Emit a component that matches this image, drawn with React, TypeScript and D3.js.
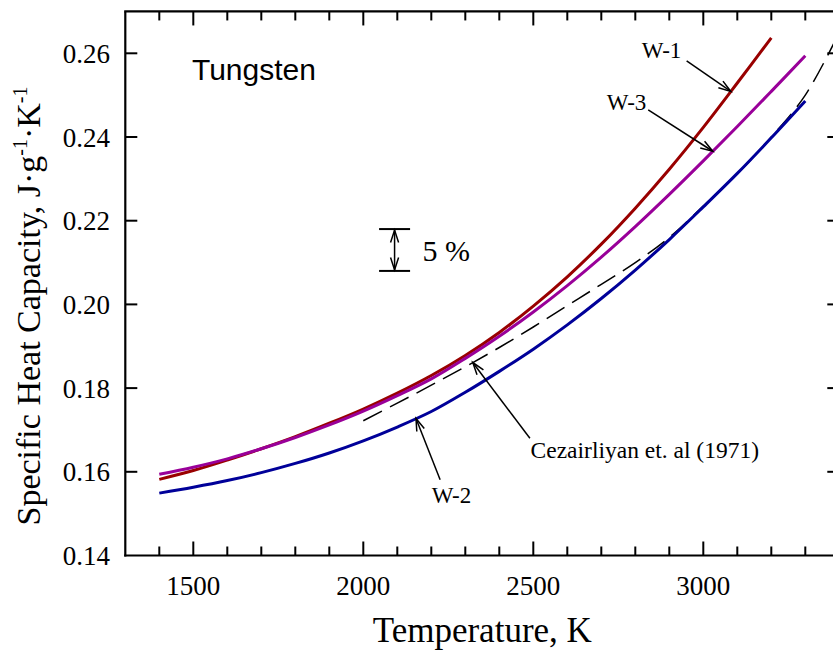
import React from "react";
import * as d3 from "d3";

// ---- data ----
const tempsW1 = [1400, 1500, 1600, 1700, 1800, 1900, 2000, 2100, 2200, 2300, 2400, 2500, 2600, 2700, 2800, 2900, 3000, 3100, 3200];
const w1 = [0.1582, 0.1603, 0.1628, 0.1655, 0.1684, 0.1716, 0.1750, 0.1788, 0.1830, 0.1878, 0.1933, 0.1996, 0.2066, 0.2144, 0.2230, 0.2323, 0.2423, 0.2529, 0.2637];
const tempsW23 = [1400, 1500, 1600, 1700, 1800, 1900, 2000, 2100, 2200, 2300, 2400, 2500, 2600, 2700, 2800, 2900, 3000, 3100, 3200, 3300];
const w3 = [0.1594, 0.1611, 0.1631, 0.1655, 0.1682, 0.1712, 0.1745, 0.1782, 0.1822, 0.1871, 0.1924, 0.1982, 0.2045, 0.2113, 0.2186, 0.2263, 0.2343, 0.2425, 0.2509, 0.2594];
const w2 = [0.1549, 0.1563, 0.1579, 0.1598, 0.1620, 0.1645, 0.1674, 0.1707, 0.1744, 0.1790, 0.1840, 0.1893, 0.1951, 0.2014, 0.2082, 0.2155, 0.2233, 0.2313, 0.2398, 0.2486];
const tempsCez = [2000, 2100, 2200, 2300, 2400, 2500, 2600, 2700, 2800, 2900, 3000, 3100, 3200, 3300, 3400];
const cez = [0.1722, 0.1764, 0.1807, 0.1851, 0.1897, 0.1946, 0.1997, 0.2048, 0.2100, 0.2160, 0.2235, 0.2312, 0.2400, 0.2500, 0.2650];

const xMajorTicks = [1500, 2000, 2500, 3000];
const xMinorTicks = d3.range(1400, 3400, 100);
const yTicks = [0.14, 0.16, 0.18, 0.20, 0.22, 0.24, 0.26];

// annotations in data coordinates
const errBarT = 2092;
const errBarLow = 0.208;
const errBarHigh = 0.218;

const W = 833;
const H = 655;

const x = d3.scaleLinear().domain([1300, 3400]).range([125.3, 839.3]);
const y = d3.scaleLinear().domain([0.14, 0.27]).range([555.5, 11.45]);

function valueAt(ts: number[], vs: number[], t: number) {
  return d3.scaleLinear().domain(ts).range(vs)(t);
}

const line = d3
  .line<[number, number]>()
  .x((d) => x(d[0]))
  .y((d) => y(d[1]))
  .curve(d3.curveCatmullRom.alpha(0.5));

const pts = (ts: number[], vs: number[]) => ts.map((t, i) => [t, vs[i]] as [number, number]);

function Arrow({ x1, y1, x2, y2 }: { x1: number; y1: number; x2: number; y2: number }) {
  const ang = Math.atan2(y2 - y1, x2 - x1);
  const L = 13;
  const a = (18 * Math.PI) / 180;
  const b1x = x2 - L * Math.cos(ang - a);
  const b1y = y2 - L * Math.sin(ang - a);
  const b2x = x2 - L * Math.cos(ang + a);
  const b2y = y2 - L * Math.sin(ang + a);
  return (
    <g stroke="#000" strokeWidth={1.5} fill="none">
      <line x1={x1} y1={y1} x2={x2} y2={y2} />
      <polyline points={`${b1x},${b1y} ${x2},${y2} ${b2x},${b2y}`} />
    </g>
  );
}

const annotations = [
  { label: "W-1", tx: 2819, ty: 0.2588, sx: 2951, sy: 0.2582, tipT: 3081, ts: tempsW1, vs: w1, size: 23 },
  { label: "W-3", tx: 2716, ty: 0.2465, sx: 2838, sy: 0.2465, tipT: 3028, ts: tempsW23, vs: w3, size: 23 },
  { label: "W-2", tx: 2201, ty: 0.1525, sx: 2226, sy: 0.1581, tipT: 2155, ts: tempsW23, vs: w2, size: 23 },
  { label: "Cezairliyan et. al (1971)", tx: 2492, ty: 0.1632, sx: 2490, sy: 0.1680, tipT: 2322, ts: tempsCez, vs: cez, size: 23.5 },
];

const serif = "Liberation Serif, Times New Roman, serif";
const sans = "Liberation Sans, Arial, sans-serif";

export default function App() {
  const left = x.range()[0];
  const right = x.range()[1];
  const bottom = y.range()[0];
  const top = y.range()[1];
  return (
    <svg width={W} height={H} style={{ position: "absolute", left: 0, top: 0, background: "#fff" }}>
      <defs>
        <clipPath id="plot">
          <rect x={left} y={top} width={right - left} height={bottom - top} />
        </clipPath>
      </defs>
      <rect x={0} y={0} width={W} height={H} fill="#fff" />

      {/* curves */}
      <g clipPath="url(#plot)" fill="none">
        <path d={line(pts(tempsCez, cez)) || ""} stroke="#000" strokeWidth={1.5} strokeDasharray="21,9" />
        <path d={line(pts(tempsW1, w1)) || ""} stroke="#990000" strokeWidth={3} />
        <path d={line(pts(tempsW23, w3)) || ""} stroke="#990099" strokeWidth={3} />
        <path d={line(pts(tempsW23, w2)) || ""} stroke="#000099" strokeWidth={3} />
      </g>

      {/* axes frame */}
      <g stroke="#000" strokeWidth={2.2} fill="none">
        <line x1={left} y1={top} x2={left} y2={bottom + 1.1} />
        <line x1={left - 1.1} y1={bottom} x2={right} y2={bottom} />
        <line x1={left - 1.1} y1={top} x2={right} y2={top} />
        <line x1={right} y1={top} x2={right} y2={bottom} />
      </g>

      {/* ticks */}
      <g stroke="#000" strokeWidth={2}>
        {xMinorTicks.map((t) => {
          const len = xMajorTicks.includes(t) ? 14 : 9;
          return (
            <g key={t}>
              <line x1={x(t)} x2={x(t)} y1={bottom} y2={bottom - len} />
              <line x1={x(t)} x2={x(t)} y1={top} y2={top + len} />
            </g>
          );
        })}
        {yTicks.slice(1).map((v) => (
          <g key={v}>
            <line x1={left} x2={left + 12} y1={y(v)} y2={y(v)} />
            <line x1={right} x2={right - 12} y1={y(v)} y2={y(v)} />
          </g>
        ))}
      </g>

      {/* tick labels */}
      {xMajorTicks.map((t) => (
        <text key={t} x={x(t)} y={595} textAnchor="middle" fontFamily={serif} fontSize={27} fill="#000">
          {t}
        </text>
      ))}
      {yTicks.map((v) => (
        <text key={v} x={110} y={y(v) + 9.5} textAnchor="end" fontFamily={serif} fontSize={27} fill="#000">
          {v.toFixed(2)}
        </text>
      ))}

      {/* axis titles */}
      <text x={(left + right) / 2} y={642} textAnchor="middle" fontFamily={serif} fontSize={35}>
        Temperature, K
      </text>
      <text transform={`translate(40,${306}) rotate(-90)`} textAnchor="middle" fontFamily={serif} fontSize={34}>
        Specific Heat Capacity, J·g
        <tspan dy={-13} fontSize={20}>-1</tspan>
        <tspan dy={13}>·K</tspan>
        <tspan dy={-13} fontSize={20}>-1</tspan>
      </text>

      {/* Tungsten */}
      <text x={x(1496)} y={y(0.2536)} fontFamily={sans} fontSize={30}>
        Tungsten
      </text>

      {/* 5% error symbol */}
      <g stroke="#000" strokeWidth={2}>
        <line x1={x(errBarT) - 15.5} x2={x(errBarT) + 15.5} y1={y(errBarHigh)} y2={y(errBarHigh)} />
        <line x1={x(errBarT) - 15.5} x2={x(errBarT) + 15.5} y1={y(errBarLow)} y2={y(errBarLow)} />
      </g>
      <Arrow x1={x(errBarT)} y1={(y(errBarHigh) + y(errBarLow)) / 2} x2={x(errBarT)} y2={y(errBarHigh) + 1} />
      <Arrow x1={x(errBarT)} y1={(y(errBarHigh) + y(errBarLow)) / 2} x2={x(errBarT)} y2={y(errBarLow) - 1} />
      <text x={x(errBarT) + 28} y={y(errBarLow) - 9.5} fontFamily={serif} fontSize={30}>
        5 %
      </text>

      {/* curve labels with arrows */}
      {annotations.map((a) => (
        <g key={a.label}>
          <text x={x(a.tx)} y={y(a.ty)} fontFamily={serif} fontSize={a.size}>
            {a.label}
          </text>
          <Arrow x1={x(a.sx)} y1={y(a.sy)} x2={x(a.tipT)} y2={y(valueAt(a.ts, a.vs, a.tipT))} />
        </g>
      ))}
    </svg>
  );
}
